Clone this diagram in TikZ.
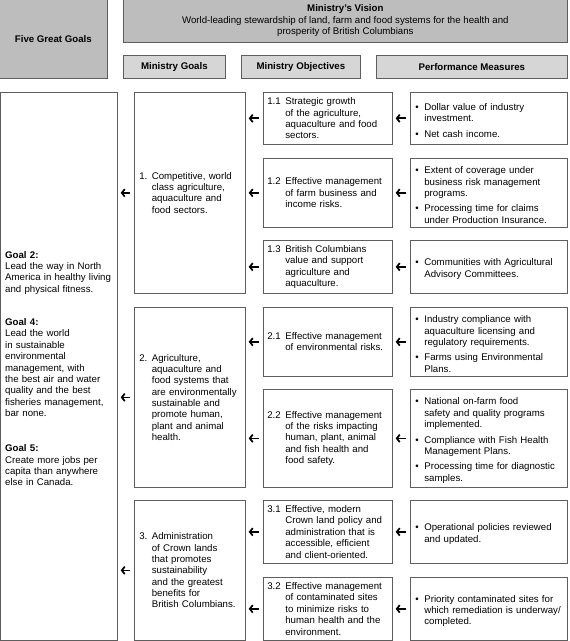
\documentclass[tikz,border=0pt]{standalone}
\usepackage{fontspec}
\setmainfont{Liberation Sans}
\usetikzlibrary{arrows.meta}
\definecolor{darkfill}{HTML}{BDBDBD}
\definecolor{lightfill}{HTML}{D6D6D6}
\definecolor{edge}{HTML}{5E5E5E}
\newcommand\NI[2]{\hangindent=#1\hangafter=1\noindent\makebox[#1][l]{#2}\ignorespaces}
\newcommand\BI{\par\hangindent=9bp\hangafter=1\noindent\makebox[9bp][l]{\textbullet}\ignorespaces}
\newcommand\BG{\par\vspace{4bp}}
\begin{document}
\begin{tikzpicture}[x=1bp,y=-1bp,
  txt/.style={font=\fontsize{9.7}{11.4}\selectfont},
  hbox/.style={draw=edge, line width=0.7bp, anchor=north west, inner sep=0pt,
    font=\fontsize{9.7}{11.4}\selectfont\bfseries, align=center},
  cbox/.style={draw=edge, fill=white, line width=0.7bp, anchor=north west, inner ysep=0pt,
    txt, align=left},
  gbox/.style={cbox, inner xsep=5bp, text width=101bp},
  obox/.style={cbox, inner xsep=4bp, text width=121bp},
  mbox/.style={cbox, inner xsep=5bp, text width=147bp},
  arr/.style={line width=1.7bp, -{Straight Barb[length=3bp,width=7.5bp]},
    shorten <=4bp, shorten >=3bp}]
\useasboundingbox (0,0) rectangle (570,641);

% headers
\node[hbox, fill=darkfill, minimum width=108bp, minimum height=79bp] (fgg) at (-1,-1) {Five Great Goals};
\node[hbox, fill=darkfill, minimum width=444bp, minimum height=43bp] (vis) at (123,-1)
  {Ministry’s Vision\\\mdseries World-leading stewardship of land, farm and food systems for the health and\\\mdseries prosperity of British Columbians};
\node[hbox, fill=lightfill, minimum width=102bp, minimum height=23bp] (h1) at (123,55) {Ministry Goals};
\node[hbox, fill=lightfill, minimum width=119bp, minimum height=23bp] (h2) at (241,55) {Ministry Objectives};
\node[hbox, fill=lightfill, minimum width=191bp, minimum height=23bp] (h3) at (376,55) {Performance Measures};

% left column
\node[cbox, inner sep=0pt, minimum width=116.5bp, minimum height=548bp] (L) at (0.5,92) {};
\node[txt, anchor=north west, inner sep=0pt, text width=112bp, align=left] (lt) at (5,251)
  {\textbf{Goal 2:}\\Lead the way in North\\America in healthy living\\and physical fitness.\\[22bp]
   \textbf{Goal 4:}\\Lead the world\\in sustainable\\environmental\\management, with\\the best air and water\\quality and the best\\fisheries management,\\bar none.\\[24bp]
   \textbf{Goal 5:}\\Create more jobs per\\capita than anywhere\\else in Canada.};

% ministry goals
\node[gbox, minimum height=201bp] (g1) at (134,92)
  {\NI{12.5bp}{1.}Competitive, world\newline class agriculture,\newline aquaculture and\newline food sectors.\par};
\node[gbox, minimum height=180bp] (g2) at (134,307)
  {\NI{12.5bp}{2.}Agriculture,\newline aquaculture and\newline food systems that\newline are environmentally\newline sustainable and\newline promote human,\newline plant and animal\newline health.\par};
\node[gbox, minimum height=140bp] (g3) at (134,500)
  {\NI{12.5bp}{3.}Administration\newline of Crown lands\newline that promotes\newline sustainability\newline and the greatest\newline benefits for\newline British Columbians.\par};

% objectives
\node[obox, minimum height=52bp] (o11) at (263,92)
  {\NI{18bp}{1.1}Strategic growth\newline of the agriculture,\newline aquaculture and food\newline sectors.\par};
\node[obox, minimum height=69bp] (o12) at (263,158)
  {\NI{18bp}{1.2}Effective management\newline of farm business and\newline income risks.\par};
\node[obox, minimum height=53bp] (o13) at (263,240)
  {\NI{18bp}{1.3}British Columbians\newline value and support\newline agriculture and\newline aquaculture.\par};
\node[obox, minimum height=69bp] (o21) at (263,307)
  {\NI{18bp}{2.1}Effective management\newline of environmental risks.\par};
\node[obox, minimum height=98bp] (o22) at (263,389)
  {\NI{18bp}{2.2}Effective management\newline of the risks impacting\newline human, plant, animal\newline and fish health and\newline food safety.\par};
\node[obox, minimum height=63bp] (o31) at (263,500)
  {\NI{18bp}{3.1}Effective, modern\newline Crown land policy and\newline administration that is\newline accessible, efficient\newline and client-oriented.\par};
\node[obox, minimum height=63bp] (o32) at (263,577)
  {\NI{18bp}{3.2}Effective management\newline of contaminated sites\newline to minimize risks to\newline human health and the\newline environment.\par};

% performance measures
\node[mbox, minimum height=52bp] (m11) at (410,92)
  {\BI Dollar value of industry\newline investment.\BG\BI Net cash income.\par};
\node[mbox, minimum height=69bp] (m12) at (410,158)
  {\BI Extent of coverage under\newline business risk management\newline programs.\BG\BI Processing time for claims\newline under Production Insurance.\par};
\node[mbox, minimum height=53bp] (m13) at (410,240)
  {\BI Communities with Agricultural\newline Advisory Committees.\par};
\node[mbox, minimum height=69bp] (m21) at (410,307)
  {\BI Industry compliance with\newline aquaculture licensing and\newline regulatory requirements.\BG\BI Farms using Environmental\newline Plans.\par};
\node[mbox, minimum height=98bp] (m22) at (410,389)
  {\BI National on-farm food\newline safety and quality programs\newline implemented.\BG\BI Compliance with Fish Health\newline Management Plans.\BG\BI Processing time for diagnostic\newline samples.\par};
\node[mbox, minimum height=63bp] (m31) at (410,500)
  {\BI Operational policies reviewed\newline and updated.\par};
\node[mbox, minimum height=63bp] (m32) at (410,577)
  {\BI Priority contaminated sites for\newline which remediation is underway/\newline completed.\par};

% arrows
\foreach \m/\o in {m11/o11,m12/o12,m13/o13,m21/o21,m22/o22,m31/o31,m32/o32}
  \draw[arr] (\m.west) -- (\o.east |- \m.west);
\foreach \o/\g in {o11/g1,o12/g1,o13/g1,o21/g2,o22/g2,o31/g3,o32/g3}
  \draw[arr] (\o.west) -- (\g.east |- \o.west);
\foreach \g in {g1,g2,g3}
  \draw[arr] (\g.west) -- (L.east |- \g.west);
\end{tikzpicture}
\end{document}
